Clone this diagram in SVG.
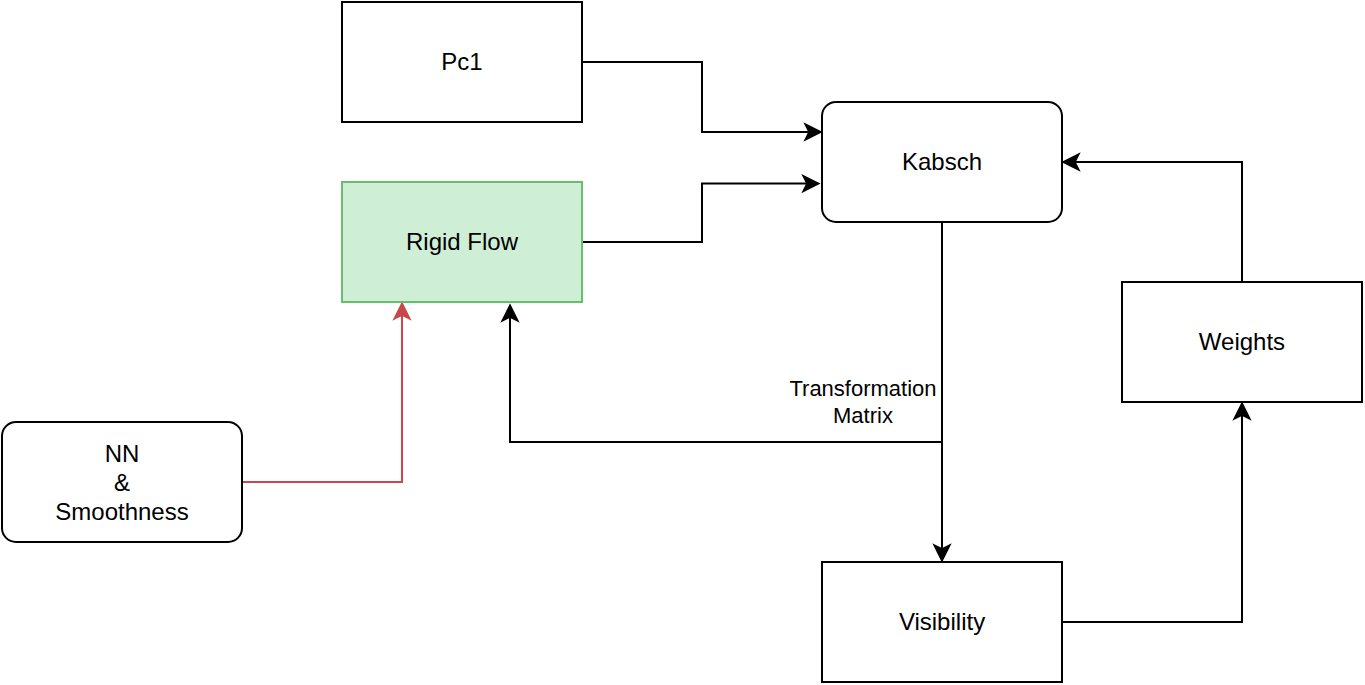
<svg xmlns="http://www.w3.org/2000/svg" width="1365" height="685" viewBox="0 0 1365 685">
<style>
.box{fill:#ffffff;stroke:#000000;stroke-width:2}
.green{fill:#cfeed6;stroke:#67bf6b;stroke-width:2}
.lbl{font-family:"Liberation Sans",Arial,sans-serif;font-size:24px;fill:#000000;text-anchor:middle}
.elbl{font-family:"Liberation Sans",Arial,sans-serif;font-size:22px;fill:#000000;text-anchor:middle}
.edge{fill:none;stroke:#000000;stroke-width:2;marker-end:url(#arr)}
.red{fill:none;stroke:#c8474a;stroke-width:2;marker-end:url(#arrR)}
</style>
<defs>
<marker id="arr" markerUnits="userSpaceOnUse" markerWidth="20" markerHeight="20" refX="4" refY="8" orient="auto" overflow="visible">
<path d="M16,8 L0,0 L4,8 L0,16 Z" fill="#000000" stroke="#000000" stroke-width="1.5" stroke-linejoin="miter"/>
</marker>
<marker id="arrR" markerUnits="userSpaceOnUse" markerWidth="20" markerHeight="20" refX="4" refY="8" orient="auto" overflow="visible">
<path d="M16,8 L0,0 L4,8 L0,16 Z" fill="#c8474a" stroke="#c8474a" stroke-width="1.5" stroke-linejoin="miter"/>
</marker>
</defs>
<rect width="1365" height="685" fill="#ffffff"/>
<g id="connectors">
<path class="edge" d="M582,62 H702 V132 H809"/>
<path class="edge" d="M582,242 H702 V183.6 H807"/>
<path class="edge" d="M1242,282 V162 H1075"/>
<path class="edge" d="M942,222 V549"/>
<path class="edge" d="M942,442 H510 V317"/>
<path class="edge" d="M1062,622 H1242 V415"/>
<path class="red" d="M242,482 H402 V315"/>
<text class="elbl" x="863" y="396">Transformation</text>
<text class="elbl" x="863" y="423">Matrix</text>
</g>
<g id="pc1">
<rect class="box" x="342" y="2" width="240" height="120"/>
<text class="lbl" x="462" y="69.5">Pc1</text>
</g>
<g id="kabsch">
<rect class="box" x="822" y="102" width="240" height="120" rx="14" ry="14"/>
<text class="lbl" x="942" y="169.5">Kabsch</text>
</g>
<g id="rigid-flow">
<rect class="green" x="342" y="182" width="240" height="120"/>
<text class="lbl" x="462" y="249.5">Rigid Flow</text>
</g>
<g id="weights">
<rect class="box" x="1122" y="282" width="240" height="120"/>
<text class="lbl" x="1242" y="349.5">Weights</text>
</g>
<g id="nn-smoothness">
<rect class="box" x="2" y="422" width="240" height="120" rx="14" ry="14"/>
<text class="lbl" x="122" y="461.7">NN</text>
<text class="lbl" x="122" y="490.5">&amp;</text>
<text class="lbl" x="122" y="519.8">Smoothness</text>
</g>
<g id="visibility">
<rect class="box" x="822" y="562" width="240" height="120"/>
<text class="lbl" x="942" y="629.5">Visibility</text>
</g>
</svg>
